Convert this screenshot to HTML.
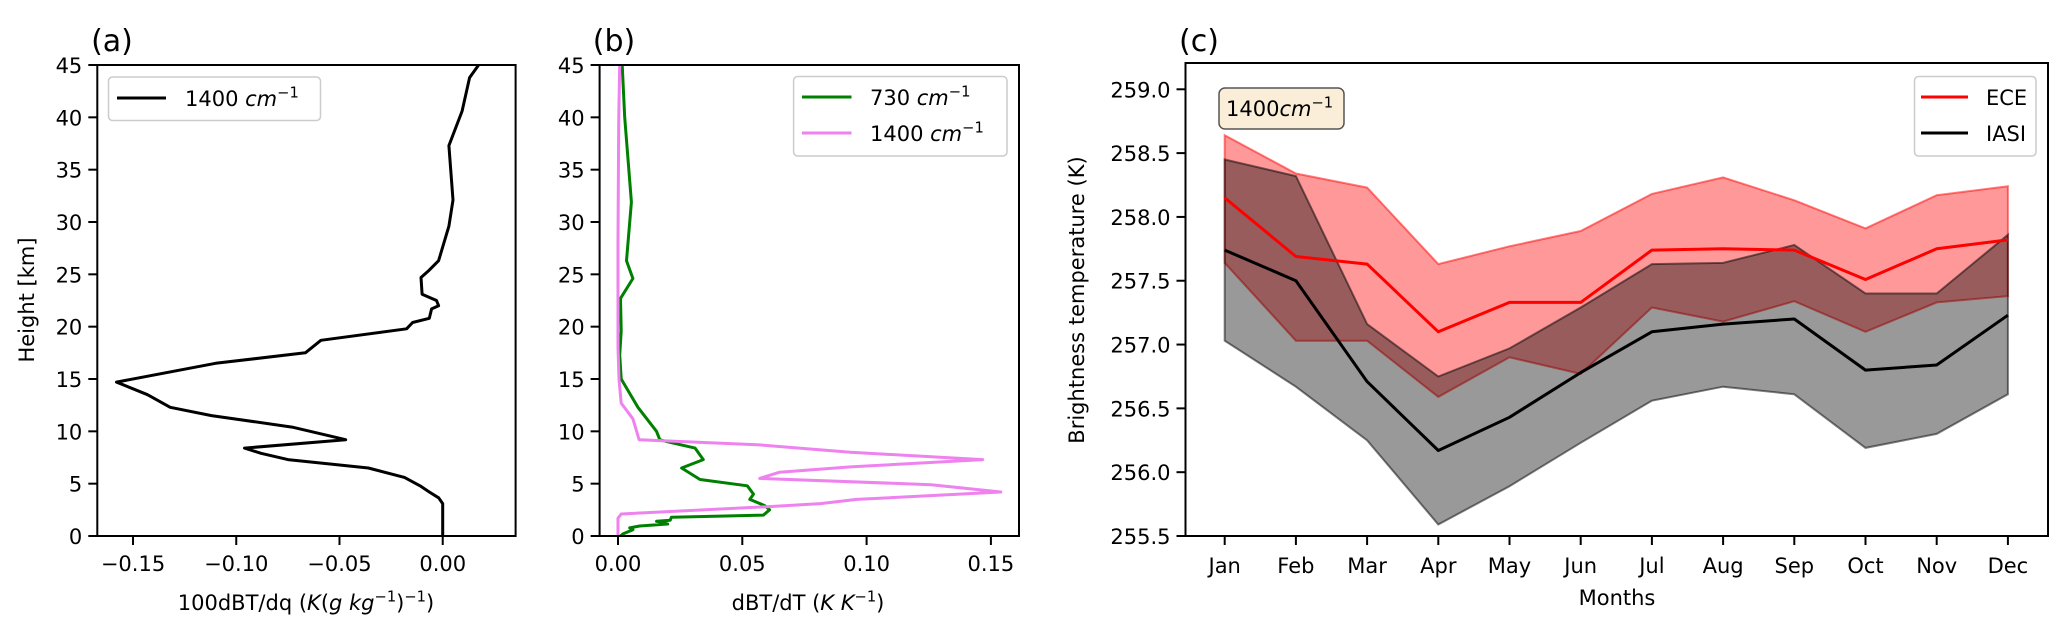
<!DOCTYPE html>
<html><head><meta charset="utf-8"><style>
html,body{margin:0;padding:0;background:#fff;}
svg{display:block;font-family:"DejaVu Sans","Liberation Sans",sans-serif;}
</style></head><body>
<svg id="fig" width="2067" height="632" viewBox="0 0 2067 632" xmlns="http://www.w3.org/2000/svg"></svg>
<script>
// Panel (a) data: 100dBT/dq vs height
const aHeight = [0,3.1,3.65,4.2,4.8,5.6,6.5,7.3,7.9,8.4,9.2,10.4,11.5,12.3,13.5,14.7,16.5,17.5,18.7,19.8,20.4,20.8,21.7,22.0,22.5,23.1,24.7,25.4,26.3,29.6,32.1,37.3,40.6,43.8,45];
const aValue = [0,0,-0.002,-0.0065,-0.011,-0.0185,-0.036,-0.075,-0.088,-0.096,-0.047,-0.073,-0.112,-0.132,-0.143,-0.158,-0.110,-0.0665,-0.059,-0.0175,-0.0146,-0.0065,-0.0054,-0.002,-0.003,-0.010,-0.0105,-0.0065,-0.002,0.003,0.005,0.003,0.0094,0.013,0.0174];
const aXTicks = [-0.15,-0.10,-0.05,0.00];
const aXTickLabels = ["\u22120.15","\u22120.10","\u22120.05","0.00"];
const hTicks = [0,5,10,15,20,25,30,35,40,45];
// Panel (b) data
const bGreenHeight = [0,0.2,0.6,0.77,0.96,1.15,1.4,1.5,1.8,2.0,2.5,2.9,3.5,4.0,4.8,5.4,6.5,7.3,8.4,9.0,9.2,10.0,12.3,15,17.3,19.6,22.7,24.6,26.3,31.9,40,45];
const bGreenValue = [0.001,0.002,0.006,0.0047,0.0087,0.020,0.0155,0.021,0.0215,0.0585,0.061,0.059,0.053,0.0545,0.052,0.033,0.0256,0.0343,0.031,0.020,0.0168,0.0155,0.008,0.0013,0.0007,0.0013,0.001,0.006,0.0034,0.0054,0.0027,0.0017];
const bPinkHeight = [0,1.7,2.1,2.8,3.1,3.5,4.2,4.9,5.5,6.1,6.6,7.3,8.0,8.7,9.2,11.2,12.7,15,18,28,39.6,45];
const bPinkValue = [0,0,0.0013,0.0599,0.0814,0.096,0.154,0.126,0.057,0.065,0.0935,0.1467,0.0935,0.057,0.0085,0.006,0.0013,0.0004,0,0,0.0003,0.0007];
const bXTicks = [0,0.05,0.10,0.15];
const bXTickLabels = ["0.00","0.05","0.10","0.15"];
// Panel (c) data
const months = ["Jan","Feb","Mar","Apr","May","Jun","Jul","Aug","Sep","Oct","Nov","Dec"];
const eceMean = [258.15,257.69,257.63,257.10,257.33,257.33,257.74,257.75,257.74,257.51,257.75,257.82];
const eceUpper = [258.64,258.34,258.23,257.63,257.77,257.89,258.18,258.31,258.13,257.91,258.17,258.24];
const eceLower = [257.64,257.03,257.03,256.59,256.90,256.77,257.29,257.18,257.34,257.10,257.33,257.38];
const iasiMean = [257.74,257.50,256.71,256.17,256.43,256.78,257.10,257.16,257.20,256.80,256.84,257.23];
const iasiUpper = [258.45,258.32,257.16,256.75,256.97,257.29,257.63,257.64,257.78,257.40,257.40,257.86];
const iasiLower = [257.03,256.67,256.25,255.59,255.89,256.23,256.56,256.67,256.61,256.19,256.30,256.61];
const cYTicks = [255.5,256.0,256.5,257.0,257.5,258.0,258.5,259.0];

const svg = document.getElementById('fig');
const NS = 'http://www.w3.org/2000/svg';
function mk(tag, attrs, parent){
  const e = document.createElementNS(NS, tag);
  for (const k in attrs) e.setAttribute(k, attrs[k]);
  (parent||svg).appendChild(e);
  return e;
}
function txt(s, x, y, size, anchor, parent){
  const t = mk('text', {x:x, y:y, 'font-size':size, 'text-anchor':anchor||'middle', fill:'#000'}, parent);
  t.textContent = s;
  return t;
}
function supText(parent, x, y, size, anchor, parts){
  const t = mk('text', {x:x, y:y, 'font-size':size, 'text-anchor':anchor, fill:'#000'}, parent);
  parts.forEach(p=>{
    const s = document.createElementNS(NS,'tspan');
    if (p[1]) s.setAttribute('font-style','italic');
    if (p[2]) { s.setAttribute('font-size', size*0.7); s.setAttribute('dy', -size*0.4); }
    else if (p[3]) { s.setAttribute('dy', size*0.4); }
    s.textContent = p[0];
    t.appendChild(s);
  });
  return t;
}
const TOP = 65, BOT = 536;
function yH(h){ return BOT - (h/45)*(BOT-TOP); }

// ---------- Panel (a) ----------
const aL = 97.3, aR = 515.6, aMin = -0.1673, aMax = 0.0353;
function xA(v){ return aL + (v-aMin)/(aMax-aMin)*(aR-aL); }
const gA = mk('g', {});


let pa = aValue.map((v,i)=>xA(v).toFixed(1)+','+yH(aHeight[i]).toFixed(1)).join(' ');
const lineA = mk('polyline', {points:pa, fill:'none', stroke:'#000', 'stroke-width':3, 'stroke-linejoin':'round'}, gA);


mk('rect', {x:aL, y:TOP, width:aR-aL, height:BOT-TOP, fill:'none', stroke:'#000', 'stroke-width':2}, gA);
hTicks.forEach(h=>{
  mk('line', {x1:aL-9, x2:aL, y1:yH(h), y2:yH(h), stroke:'#000', 'stroke-width':2}, gA);
  txt(String(h), aL-15, yH(h)+8, 21, 'end', gA);
});
aXTicks.forEach((v,i)=>{
  mk('line', {x1:xA(v), x2:xA(v), y1:BOT, y2:BOT+9, stroke:'#000', 'stroke-width':2}, gA);
  txt(aXTickLabels[i], xA(v), BOT+35, 21, 'middle', gA);
});
const aXl = supText(gA, 306, 610, 21, 'middle', [['100dBT/dq ('],['K',1],['('],['g kg',1],['\u22121',0,1],[')',0,0,1],['\u22121',0,1],[')',0,0,1]]);


const aYl = txt('Height [km]', 0, 0, 21, 'middle', gA);
aYl.setAttribute('transform', 'translate(34,300) rotate(-90)');


txt('(a)', 112, 51, 30, 'middle', gA);
const legA = mk('g', {}, gA);


mk('rect', {x:108.5, y:77, width:212, height:43.5, rx:4, fill:'#fff', stroke:'#ccc', 'stroke-width':1.5}, legA);
mk('line', {x1:117, x2:166, y1:98, y2:98, stroke:'#000', 'stroke-width':3}, legA);
supText(legA, 185, 106, 21, 'start', [['1400 '],['cm',1],['\u22121',0,1]]);

// ---------- Panel (b) ----------
const bL = 599.6, bR = 1019, bX0 = 618, bPer = 124.3/0.05;
function xB(v){ return bX0 + v*bPer; }
const gB = mk('g', {});


const lineG = mk('polyline', {points:bGreenValue.map((v,i)=>xB(v).toFixed(1)+','+yH(bGreenHeight[i]).toFixed(1)).join(' '), fill:'none', stroke:'#008000', 'stroke-width':3, 'stroke-linejoin':'round'}, gB);


const lineP = mk('polyline', {points:bPinkValue.map((v,i)=>xB(v).toFixed(1)+','+yH(bPinkHeight[i]).toFixed(1)).join(' '), fill:'none', stroke:'#ee82ee', 'stroke-width':3, 'stroke-linejoin':'round'}, gB);


mk('rect', {x:bL, y:TOP, width:bR-bL, height:BOT-TOP, fill:'none', stroke:'#000', 'stroke-width':2}, gB);
hTicks.forEach(h=>{
  mk('line', {x1:bL-9, x2:bL, y1:yH(h), y2:yH(h), stroke:'#000', 'stroke-width':2}, gB);
  txt(String(h), bL-15, yH(h)+8, 21, 'end', gB);
});
bXTicks.forEach((v,i)=>{
  mk('line', {x1:xB(v), x2:xB(v), y1:BOT, y2:BOT+9, stroke:'#000', 'stroke-width':2}, gB);
  txt(bXTickLabels[i], xB(v), BOT+35, 21, 'middle', gB);
});
const bXl = supText(gB, 808, 610, 21, 'middle', [['dBT/dT ('],['K K',1],['\u22121',0,1],[')',0,0,1]]);


txt('(b)', 614, 51, 30, 'middle', gB);
const legB = mk('g', {}, gB);


mk('rect', {x:793.6, y:76.5, width:213.4, height:79.5, rx:4, fill:'#fff', stroke:'#ccc', 'stroke-width':1.5}, legB);
mk('line', {x1:802, x2:851.5, y1:97, y2:97, stroke:'#008000', 'stroke-width':3}, legB);
mk('line', {x1:802, x2:851.5, y1:133, y2:133, stroke:'#ee82ee', 'stroke-width':3}, legB);
supText(legB, 870, 105, 21, 'start', [['730 '],['cm',1],['\u22121',0,1]]);
supText(legB, 870, 141, 21, 'start', [['1400 '],['cm',1],['\u22121',0,1]]);

// ---------- Panel (c) ----------
const cL = 1185.5, cR = 2048, cTop = 63, cBot = 536;
const cVMin = 255.5, cVMax = 259.206;
function xC(i){ return 1224.7 + i*71.2; }
function yC(v){ return cBot - (v-cVMin)/(cVMax-cVMin)*(cBot-cTop); }
const gC = mk('g', {});


function band(up, lo, fill, stroke, name){
  const pts = up.map((v,i)=>xC(i).toFixed(1)+','+yC(v).toFixed(1))
    .concat(lo.map((v,i)=>i).reverse().map(i=>xC(i).toFixed(1)+','+yC(lo[i]).toFixed(1)));
  const p = mk('polygon', {points:pts.join(' '), fill:fill, 'fill-opacity':0.4, stroke:stroke, 'stroke-opacity':0.5, 'stroke-width':2}, gC);
  
  
}
band(eceUpper, eceLower, '#ff0000', '#ff0000', 'ece-range-band');
band(iasiUpper, iasiLower, '#000000', '#000000', 'iasi-range-band');
function line(vals, color, name){
  const p = mk('polyline', {points:vals.map((v,i)=>xC(i).toFixed(1)+','+yC(v).toFixed(1)).join(' '), fill:'none', stroke:color, 'stroke-width':3, 'stroke-linejoin':'round'}, gC);
  
  
}
line(eceMean, '#ff0000', 'ece-line');
line(iasiMean, '#000000', 'iasi-line');
mk('rect', {x:cL, y:cTop, width:cR-cL, height:cBot-cTop, fill:'none', stroke:'#000', 'stroke-width':2}, gC);
cYTicks.forEach(v=>{
  mk('line', {x1:cL-9, x2:cL, y1:yC(v), y2:yC(v), stroke:'#000', 'stroke-width':2}, gC);
  txt(v.toFixed(1), cL-15, yC(v)+8, 21, 'end', gC);
});
months.forEach((m,i)=>{
  mk('line', {x1:xC(i), x2:xC(i), y1:cBot, y2:cBot+9, stroke:'#000', 'stroke-width':2}, gC);
  txt(m, xC(i), cBot+37, 21, 'middle', gC);
});
const cXl = txt('Months', 1617, 605, 21, 'middle', gC);


const cYl = txt('Brightness temperature (K)', 0, 0, 21, 'middle', gC);
cYl.setAttribute('transform', 'translate(1084,300) rotate(-90)');


txt('(c)', 1199, 51, 30, 'middle', gC);
const ann = mk('g', {}, gC);


mk('rect', {x:1219, y:88, width:125, height:41, rx:6, fill:'#f5deb3', 'fill-opacity':0.5, stroke:'#555', 'stroke-width':1.5}, ann);
supText(ann, 1226, 116, 21, 'start', [['1400'],['cm',1],['\u22121',0,1]]);
const legC = mk('g', {}, gC);


mk('rect', {x:1914.5, y:76.5, width:121.5, height:79.5, rx:4, fill:'#fff', stroke:'#ccc', 'stroke-width':1.5}, legC);
mk('line', {x1:1921, x2:1968, y1:97, y2:97, stroke:'#ff0000', 'stroke-width':3}, legC);
mk('line', {x1:1921, x2:1968, y1:133, y2:133, stroke:'#000', 'stroke-width':3}, legC);
txt('ECE', 1986, 105, 21, 'start', legC);
txt('IASI', 1986, 141, 21, 'start', legC);
</script>
</body></html>
